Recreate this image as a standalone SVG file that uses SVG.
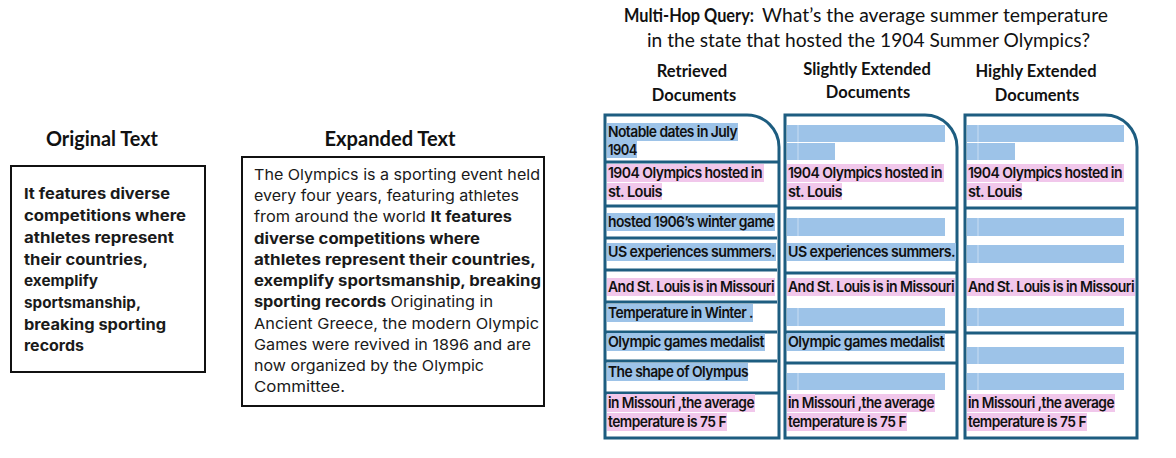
<svg xmlns="http://www.w3.org/2000/svg" width="1176" height="458" viewBox="0 0 1176 458">
  <style>
    .title { font-family: Lato, "Open Sans", sans-serif; font-weight: 700; font-size: 20px; fill: #111; }
    .head { font-family: Lato, "Open Sans", sans-serif; font-weight: 700; font-size: 16.5px; fill: #111; }
    .query { font-family: Lato, "Open Sans", sans-serif; font-size: 18.5px; fill: #111; }
    .body { font-family: Inter, "Noto Sans", sans-serif; font-size: 15px; fill: #1a1a1a; }
    .bold { font-weight: 700; }
    .doc { font-family: Inter, "Noto Sans", sans-serif; font-size: 15px; font-weight: 600; fill: #111; letter-spacing: -0.6px; }
    .box { fill: #fff; stroke: #111; stroke-width: 2; }
    .col { fill: #fff; stroke: #1d5d80; stroke-width: 3; }
    .sep { stroke: #1d5d80; stroke-width: 3; }
    .hb { fill: #9dc3e8; }
    .hp { fill: #f1c7eb; }
    .tick { stroke: #c9ddf2; stroke-width: 1; }
  </style>

  <!-- Original text panel -->
  <g id="original-text">
    <text class="title" x="102" y="146" text-anchor="middle" textLength="112" lengthAdjust="spacingAndGlyphs">Original Text</text>
    <rect class="box" x="11" y="166" width="194" height="206"/>
    <g class="body bold">
      <text x="24" y="199" textLength="146" lengthAdjust="spacingAndGlyphs">It features diverse</text>
      <text x="24" y="221" textLength="162" lengthAdjust="spacingAndGlyphs">competitions where</text>
      <text x="24" y="243" textLength="150" lengthAdjust="spacingAndGlyphs">athletes represent</text>
      <text x="24" y="265" textLength="124" lengthAdjust="spacingAndGlyphs">their countries,</text>
      <text x="24" y="286" textLength="74" lengthAdjust="spacingAndGlyphs">exemplify</text>
      <text x="24" y="308" textLength="117" lengthAdjust="spacingAndGlyphs">sportsmanship,</text>
      <text x="24" y="330" textLength="142" lengthAdjust="spacingAndGlyphs">breaking sporting</text>
      <text x="24" y="351" textLength="60" lengthAdjust="spacingAndGlyphs">records</text>
    </g>
  </g>

  <!-- Expanded text panel -->
  <g id="expanded-text">
    <text class="title" x="390" y="146" text-anchor="middle" textLength="131" lengthAdjust="spacingAndGlyphs">Expanded Text</text>
    <rect class="box" x="242" y="157" width="302" height="249"/>
    <g class="body">
      <text x="254" y="180" textLength="286" lengthAdjust="spacingAndGlyphs">The Olympics is a sporting event held</text>
      <text x="254" y="201" textLength="265" lengthAdjust="spacingAndGlyphs">every four years, featuring athletes</text>
      <text x="254" y="222" textLength="258" lengthAdjust="spacingAndGlyphs">from around the world <tspan class="bold">It features</tspan></text>
      <text x="254" y="244" textLength="226" lengthAdjust="spacingAndGlyphs" class="bold">diverse competitions where</text>
      <text x="254" y="265" textLength="282" lengthAdjust="spacingAndGlyphs" class="bold">athletes represent their countries,</text>
      <text x="254" y="286" textLength="287" lengthAdjust="spacingAndGlyphs" class="bold">exemplify sportsmanship, breaking</text>
      <text x="254" y="307" textLength="239" lengthAdjust="spacingAndGlyphs"><tspan class="bold">sporting records</tspan> Originating in</text>
      <text x="254" y="329" textLength="285" lengthAdjust="spacingAndGlyphs">Ancient Greece, the modern Olympic</text>
      <text x="254" y="350" textLength="277" lengthAdjust="spacingAndGlyphs">Games were revived in 1896 and are</text>
      <text x="254" y="371" textLength="230" lengthAdjust="spacingAndGlyphs">now organized by the Olympic</text>
      <text x="254" y="392" textLength="91" lengthAdjust="spacingAndGlyphs">Committee.</text>
    </g>
  </g>

  <!-- Query header -->
  <g id="query">
    <text class="query bold" x="624" y="22" textLength="130" lengthAdjust="spacingAndGlyphs">Multi-Hop Query:</text>
    <text class="query" x="762" y="22" textLength="346" lengthAdjust="spacingAndGlyphs">What’s the average summer temperature</text>
    <text class="query" x="647" y="47" textLength="443" lengthAdjust="spacingAndGlyphs">in the state that hosted the 1904 Summer Olympics?</text>
  </g>

  <!-- Retrieved documents column -->
  <g id="retrieved-documents">
    <text class="head" x="692" y="77" text-anchor="middle">Retrieved</text>
    <text class="head" x="694" y="101" text-anchor="middle">Documents</text>
    <path class="col" d="M605,438 V115 H747 A32,32 0 0 1 779,147 V438 Z"/>
    <g>
      <line class="sep" x1="605" y1="162" x2="779" y2="162"/>
      <line class="sep" x1="605" y1="206" x2="779" y2="206"/>
      <line class="sep" x1="605" y1="238" x2="777" y2="238"/>
      <line class="sep" x1="605" y1="270" x2="777" y2="270"/>
      <line class="sep" x1="605" y1="302" x2="777" y2="302"/>
      <line class="sep" x1="605" y1="332" x2="777" y2="332"/>
      <line class="sep" x1="605" y1="361" x2="777" y2="361"/>
      <line class="sep" x1="605" y1="393" x2="779" y2="393"/>
    </g>
    <rect class="hb" x="607" y="123" width="131" height="18"/>
    <rect class="hb" x="607" y="141" width="30" height="17"/>
    <rect class="hp" x="607" y="164" width="157" height="18"/>
    <rect class="hp" x="607" y="183" width="55" height="17"/>
    <rect class="hb" x="607" y="213" width="168" height="18"/>
    <rect class="hb" x="607" y="243" width="169" height="18"/>
    <rect class="hp" x="607" y="278" width="168" height="18"/>
    <rect class="hb" x="607" y="304" width="146" height="18"/>
    <rect class="hb" x="607" y="333" width="158" height="18"/>
    <rect class="hb" x="607" y="363" width="141" height="18"/>
    <rect class="hp" x="607" y="394" width="148" height="18"/>
    <rect class="hp" x="607" y="413" width="120" height="18"/>
    <g class="doc">
      <text x="608" y="137" textLength="129" lengthAdjust="spacingAndGlyphs">Notable dates in July</text>
      <text x="608" y="155" textLength="29" lengthAdjust="spacingAndGlyphs">1904</text>
      <text x="608" y="178" textLength="154" lengthAdjust="spacingAndGlyphs">1904 Olympics hosted in</text>
      <text x="608" y="197" textLength="54" lengthAdjust="spacingAndGlyphs">st.  Louis</text>
      <text x="608" y="227" textLength="166" lengthAdjust="spacingAndGlyphs">hosted 1906’s winter game</text>
      <text x="608" y="257" textLength="167" lengthAdjust="spacingAndGlyphs">US  experiences summers.</text>
      <text x="608" y="292" textLength="166" lengthAdjust="spacingAndGlyphs">And St.  Louis is in Missouri</text>
      <text x="608" y="318" textLength="145" lengthAdjust="spacingAndGlyphs">Temperature in Winter .</text>
      <text x="608" y="347" textLength="156" lengthAdjust="spacingAndGlyphs">Olympic games medalist</text>
      <text x="608" y="377" textLength="140" lengthAdjust="spacingAndGlyphs">The shape of Olympus</text>
      <text x="608" y="408" textLength="146" lengthAdjust="spacingAndGlyphs">in Missouri ,the average</text>
      <text x="608" y="427" textLength="118" lengthAdjust="spacingAndGlyphs">temperature is 75 F</text>
    </g>
  </g>

  <!-- Slightly extended documents column -->
  <g id="slightly-extended-documents">
    <text class="head" x="867" y="75" text-anchor="middle">Slightly Extended</text>
    <text class="head" x="868" y="98" text-anchor="middle">Documents</text>
    <path class="col" d="M785,438 V115 H925 A32,32 0 0 1 957,147 V438 Z"/>
    <g>
      <line class="sep" x1="785" y1="208" x2="957" y2="208"/>
      <line class="sep" x1="785" y1="273" x2="957" y2="273"/>
      <line class="sep" x1="785" y1="332" x2="957" y2="332"/>
      <line class="sep" x1="785" y1="363" x2="957" y2="363"/>
    </g>
    <rect class="hb" x="787" y="125" width="158" height="17"/>
    <rect class="hb" x="787" y="143" width="48" height="17"/>
    <rect class="hp" x="787" y="164" width="157" height="18"/>
    <rect class="hp" x="787" y="183" width="55" height="17"/>
    <rect class="hb" x="787" y="218" width="158" height="18"/>
    <rect class="hb" x="787" y="243" width="169" height="18"/>
    <rect class="hp" x="787" y="278" width="168" height="18"/>
    <rect class="hb" x="787" y="308" width="158" height="18"/>
    <rect class="hb" x="787" y="333" width="158" height="18"/>
    <rect class="hb" x="787" y="373" width="158" height="17"/>
    <rect class="hp" x="787" y="394" width="148" height="18"/>
    <rect class="hp" x="787" y="413" width="120" height="18"/>
    <g>
      <line class="tick" x1="798" y1="125" x2="798" y2="142"/>
      <line class="tick" x1="798" y1="143" x2="798" y2="160"/>
      <line class="tick" x1="798" y1="218" x2="798" y2="236"/>
      <line class="tick" x1="798" y1="308" x2="798" y2="326"/>
      <line class="tick" x1="798" y1="373" x2="798" y2="390"/>
    </g>
    <g class="doc">
      <text x="788" y="178" textLength="154" lengthAdjust="spacingAndGlyphs">1904 Olympics hosted in</text>
      <text x="788" y="197" textLength="54" lengthAdjust="spacingAndGlyphs">st.  Louis</text>
      <text x="788" y="257" textLength="167" lengthAdjust="spacingAndGlyphs">US  experiences summers.</text>
      <text x="788" y="292" textLength="166" lengthAdjust="spacingAndGlyphs">And St.  Louis is in Missouri</text>
      <text x="788" y="347" textLength="156" lengthAdjust="spacingAndGlyphs">Olympic games medalist</text>
      <text x="788" y="408" textLength="146" lengthAdjust="spacingAndGlyphs">in Missouri ,the average</text>
      <text x="788" y="427" textLength="118" lengthAdjust="spacingAndGlyphs">temperature is 75 F</text>
    </g>
  </g>

  <!-- Highly extended documents column -->
  <g id="highly-extended-documents">
    <text class="head" x="1036" y="77" text-anchor="middle">Highly Extended</text>
    <text class="head" x="1037" y="101" text-anchor="middle">Documents</text>
    <path class="col" d="M965,438 V115 H1105 A32,32 0 0 1 1137,147 V438 Z"/>
    <g>
      <line class="sep" x1="965" y1="208" x2="1137" y2="208"/>
      <line class="sep" x1="965" y1="333" x2="1137" y2="333"/>
    </g>
    <rect class="hb" x="967" y="125" width="157" height="17"/>
    <rect class="hb" x="967" y="143" width="48" height="17"/>
    <rect class="hp" x="967" y="164" width="157" height="18"/>
    <rect class="hp" x="967" y="183" width="55" height="17"/>
    <rect class="hb" x="967" y="218" width="157" height="18"/>
    <rect class="hb" x="967" y="245" width="157" height="18"/>
    <rect class="hp" x="967" y="278" width="168" height="18"/>
    <rect class="hb" x="967" y="308" width="157" height="18"/>
    <rect class="hb" x="967" y="347" width="157" height="17"/>
    <rect class="hb" x="967" y="373" width="157" height="17"/>
    <rect class="hp" x="967" y="394" width="148" height="18"/>
    <rect class="hp" x="967" y="413" width="120" height="18"/>
    <g>
      <line class="tick" x1="978" y1="125" x2="978" y2="142"/>
      <line class="tick" x1="978" y1="143" x2="978" y2="160"/>
      <line class="tick" x1="978" y1="218" x2="978" y2="236"/>
      <line class="tick" x1="978" y1="245" x2="978" y2="263"/>
      <line class="tick" x1="978" y1="308" x2="978" y2="326"/>
      <line class="tick" x1="978" y1="347" x2="978" y2="364"/>
      <line class="tick" x1="978" y1="373" x2="978" y2="390"/>
    </g>
    <g class="doc">
      <text x="968" y="178" textLength="154" lengthAdjust="spacingAndGlyphs">1904 Olympics hosted in</text>
      <text x="968" y="197" textLength="54" lengthAdjust="spacingAndGlyphs">st.  Louis</text>
      <text x="968" y="292" textLength="166" lengthAdjust="spacingAndGlyphs">And St.  Louis is in Missouri</text>
      <text x="968" y="408" textLength="146" lengthAdjust="spacingAndGlyphs">in Missouri ,the average</text>
      <text x="968" y="427" textLength="118" lengthAdjust="spacingAndGlyphs">temperature is 75 F</text>
    </g>
  </g>
</svg>
